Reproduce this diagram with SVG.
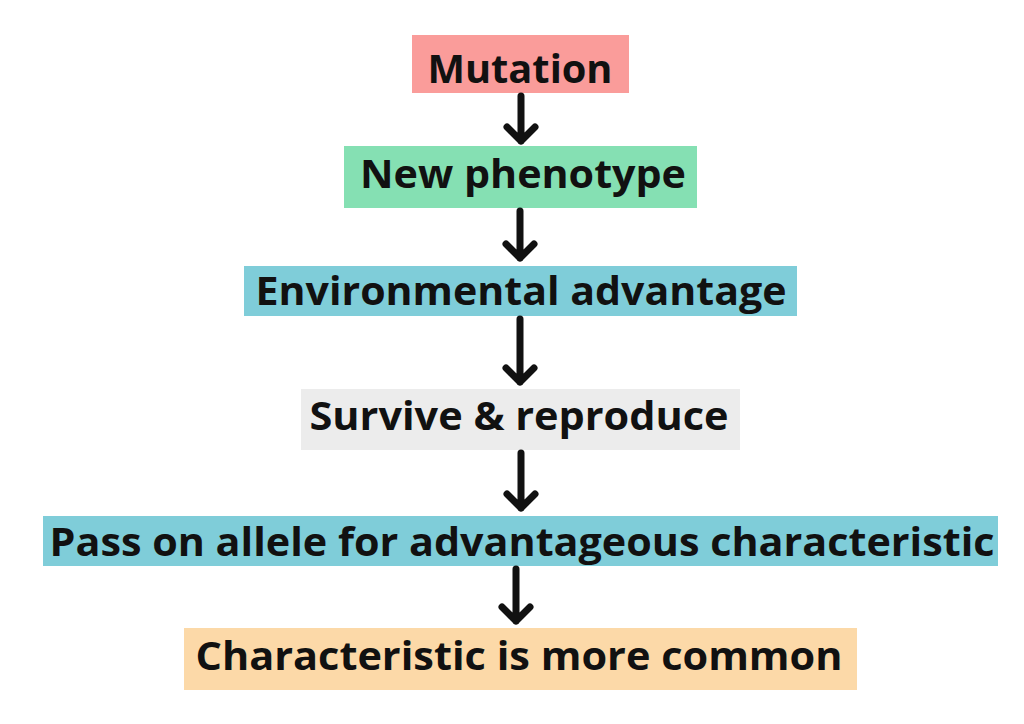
<svg xmlns="http://www.w3.org/2000/svg" width="1024" height="724" viewBox="0 0 1024 724">
<style>
text{font-family:"Open Sans","Liberation Sans",sans-serif;font-weight:bold;font-size:40px;fill:#111;text-anchor:middle}
.a{fill:none;stroke:#111;stroke-width:7;stroke-linecap:round;stroke-linejoin:round}
</style>
<rect width="1024" height="724" fill="#fff"/>
<g id="n1"><rect x="412" y="35" width="217" height="58" fill="#fa9c9a"/><text x="520" y="83" textLength="185" lengthAdjust="spacingAndGlyphs">Mutation</text></g>
<g id="n2"><rect x="344" y="146" width="353" height="62" fill="#85e0b3"/><text x="523" y="188" textLength="326" lengthAdjust="spacingAndGlyphs">New phenotype</text></g>
<g id="n3"><rect x="244" y="266" width="553" height="50" fill="#7fcdd9"/><text x="521" y="305" textLength="531" lengthAdjust="spacingAndGlyphs">Environmental advantage</text></g>
<g id="n4"><rect x="301" y="389" width="439" height="61" fill="#ececec"/><text x="519" y="430" textLength="419" lengthAdjust="spacingAndGlyphs">Survive &amp; reproduce</text></g>
<g id="n5"><rect x="43" y="516" width="955" height="50" fill="#7fcdd9"/><text x="522" y="556" textLength="945" lengthAdjust="spacingAndGlyphs">Pass on allele for advantageous characteristic</text></g>
<g id="n6"><rect x="184" y="628" width="673" height="62" fill="#fcd9a8"/><text x="519" y="670" textLength="647" lengthAdjust="spacingAndGlyphs">Characteristic is more common</text></g>
<g id="connectors">
<path class="a" d="M521 96V141M507 127L521 141L535 127"/>
<path class="a" d="M520 211V258M506 244L520 258L534 244"/>
<path class="a" d="M520 319V382M506 368L520 382L534 368"/>
<path class="a" d="M521 453V508M507 494L521 508L535 494"/>
<path class="a" d="M516 569V621M502 607L516 621L530 607"/>
</g>
</svg>
